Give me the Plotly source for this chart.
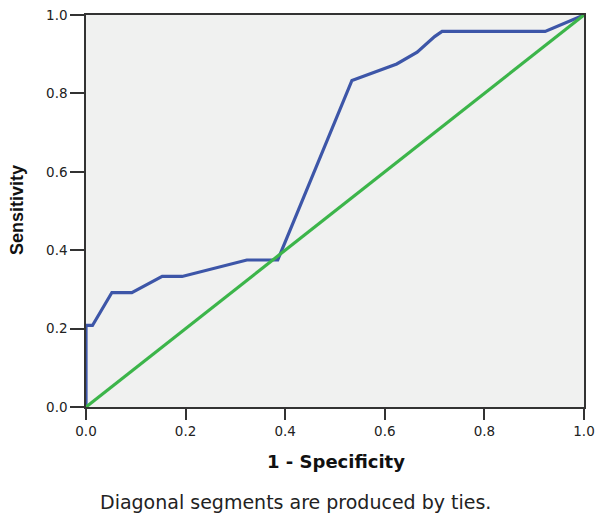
import plotly.graph_objects as go

# ROC curve values
fpr = [0.0, 0.0, 0.013, 0.052, 0.092, 0.153, 0.193, 0.323, 0.385,
       0.534, 0.624, 0.665, 0.700, 0.715, 0.922, 1.0]
tpr = [0.0, 0.208, 0.208, 0.292, 0.292, 0.333, 0.333, 0.375, 0.375,
       0.833, 0.875, 0.905, 0.945, 0.958, 0.958, 1.0]
ref_x = [0.0, 1.0]
ref_y = [0.0, 1.0]
tick_vals = [0.0, 0.2, 0.4, 0.6, 0.8, 1.0]
tick_text = ["0.0", "0.2", "0.4", "0.6", "0.8", "1.0"]

fig = go.Figure()
fig.add_trace(go.Scatter(x=fpr, y=tpr, mode="lines",
                         line=dict(color="#3d56a8", width=3.2),
                         cliponaxis=False, showlegend=False))
fig.add_trace(go.Scatter(x=ref_x, y=ref_y, mode="lines",
                         line=dict(color="#3cb54a", width=3.2),
                         cliponaxis=False, showlegend=False))

axis_common = dict(range=[0, 1], tickvals=tick_vals, ticktext=tick_text,
                   showgrid=False, zeroline=False, showline=True,
                   linecolor="#333333", linewidth=1.5, mirror=True,
                   ticks="outside", tickcolor="#333333", tickwidth=1.5,
                   automargin=False,
                   tickfont=dict(family="DejaVu Sans", size=13.5, color="#222222"))

fig.update_xaxes(**axis_common, ticklen=11)
fig.update_yaxes(**axis_common, ticklen=14)

# axis titles and caption placed in pixel-like paper coordinates
W, H = 598, 514
L, R, T, B = 86, 14, 15, 107
pw, ph = W - L - R, H - T - B

def px(x):
    return (x - L) / pw

def py(y):
    return (H - B - y) / ph

fig.add_annotation(text="<b>1 - Specificity</b>", xref="paper", yref="paper",
                   x=px(336), y=py(461), xanchor="center", yanchor="middle",
                   showarrow=False,
                   font=dict(family="DejaVu Sans", size=18, color="#111111"))
fig.add_annotation(text="<b>Sensitivity</b>", xref="paper", yref="paper",
                   x=px(17), y=py(210), xanchor="center", yanchor="middle",
                   textangle=-90, showarrow=False,
                   font=dict(family="Liberation Sans", size=18, color="#111111"))
fig.add_annotation(text="Diagonal segments are produced by ties.",
                   xref="paper", yref="paper", x=px(295), y=py(502),
                   xanchor="center", yanchor="middle", showarrow=False,
                   font=dict(family="DejaVu Sans", size=19, color="#222222"))

fig.update_layout(width=W, height=H,
                  margin=dict(l=L, r=R, t=T, b=B, autoexpand=False),
                  plot_bgcolor="#f0f1f0", paper_bgcolor="white")

fig.write_html("out.html", config={"displayModeBar": False},
               post_script="document.body.style.margin='0px';document.body.style.overflow='hidden';")
